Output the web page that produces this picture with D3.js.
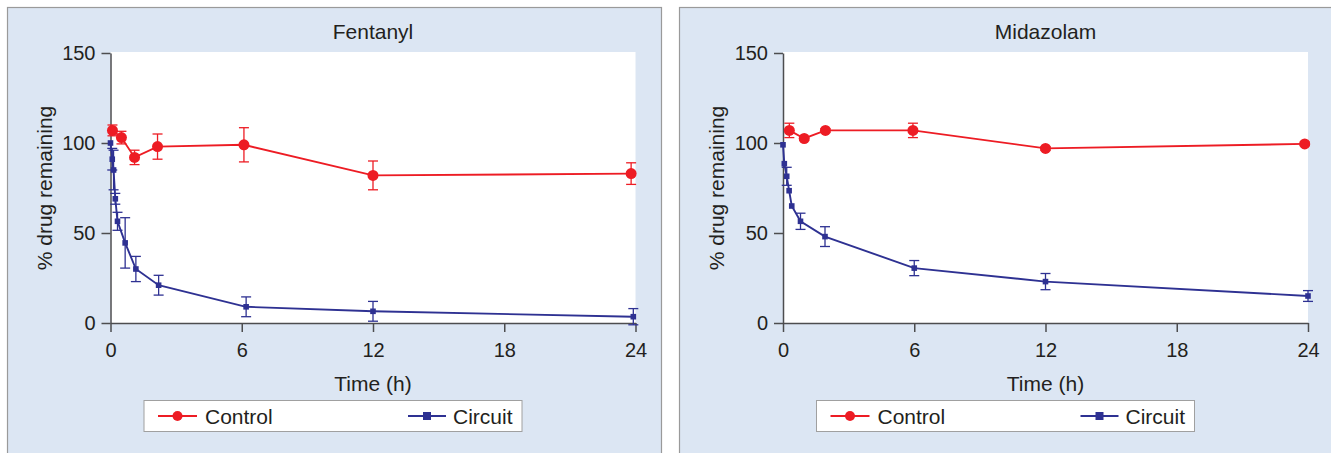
<!DOCTYPE html>
<html>
<head>
<meta charset="utf-8">
<script src="https://cdn.jsdelivr.net/npm/d3@7"></script>
<style>
  body { margin: 0; background: #ffffff; }
  svg { display: block; font-family: "Liberation Sans", Arial, sans-serif; }
</style>
</head>
<body>
<div id="chart"></div>
<script>
// axis ticks
var xTicks = [0, 6, 12, 18, 24];
var yTicks = [0, 50, 100, 150];
var panelTitles = ["Fentanyl", "Midazolam"];
var seriesNames = ["Control", "Circuit"];

// Fentanyl - control
var fenControlTime = [0.09, 0.5, 1.1, 2.15, 6.1, 12, 23.8];
var fenControlMean = [107, 103, 92, 98, 99, 82, 83];
var fenControlErr  = [3, 3.5, 4, 7, 9.5, 8, 6];
// Fentanyl - circuit
var fenCircuitTime = [0, 0.08, 0.14, 0.22, 0.32, 0.67, 1.16, 2.2, 6.2, 12, 23.9];
var fenCircuitMean = [100, 91, 85, 69, 56.5, 44.5, 30, 21, 9, 6.5, 3.5];
var fenCircuitErr  = [0, 6, 11, 3, 5, 14, 7, 5.5, 5.5, 5.5, 4.5];

// Midazolam - control
var midControlTime = [0.29, 0.97, 1.94, 5.94, 12, 23.85];
var midControlMean = [107, 102.5, 107, 107, 97, 99.5];
var midControlErr  = [4, 1, 1, 4, 1, 1];
// Midazolam - circuit
var midCircuitTime = [0, 0.06, 0.17, 0.28, 0.4, 0.8, 1.92, 6.0, 12.0, 24];
var midCircuitMean = [99, 88.5, 81.5, 73.5, 65, 56.5, 48, 30.5, 23, 15];
var midCircuitErr  = [0, 0, 5, 0, 0, 4.5, 5.5, 4.2, 4.5, 3];

var red = "#ed1c24";
var blue = "#2e3192";

function zip(t, m, e) {
  return t.map(function(d, i) { return { t: d, m: m[i], e: e[i] }; });
}

var panels = [
  { title: panelTitles[0], x: 7, plotLeft: 110.5,
    control: zip(fenControlTime, fenControlMean, fenControlErr),
    circuit: zip(fenCircuitTime, fenCircuitMean, fenCircuitErr) },
  { title: panelTitles[1], x: 679, plotLeft: 783,
    control: zip(midControlTime, midControlMean, midControlErr),
    circuit: zip(midCircuitTime, midCircuitMean, midCircuitErr) }
];

var W = 1331, H = 453;
var plotW = 525, plotTop = 53, plotBottom = 323;

var svg = d3.select("#chart").append("svg")
  .attr("width", W)
  .attr("height", H);

panels.forEach(function(p, pi) {
  var panelW = pi == 0 ? 654 : 660;

  // panel background
  svg.append("rect")
    .attr("x", p.x + 0.5)
    .attr("y", 7.5)
    .attr("width", panelW)
    .attr("height", H)
    .attr("fill", "#dce6f3")
    .attr("stroke", "#9a9a9a")
    .attr("stroke-width", 1.2);

  var x = d3.scaleLinear().domain([0, 24]).range([p.plotLeft, p.plotLeft + plotW]);
  var y = d3.scaleLinear().domain([0, 150]).range([plotBottom, plotTop]);

  // white plotting area
  svg.append("rect")
    .attr("x", x(0))
    .attr("y", y(150) - 1)
    .attr("width", x(24) - x(0))
    .attr("height", y(0) - y(150) + 1)
    .attr("fill", "#ffffff");

  // title
  svg.append("text")
    .attr("x", x(12))
    .attr("y", 39)
    .attr("text-anchor", "middle")
    .style("font-size", "21px")
    .attr("fill", "#231f20")
    .text(p.title);

  // axes
  var xAxis = svg.append("g")
    .attr("transform", "translate(0," + y(0) + ")")
    .call(d3.axisBottom(x).tickValues(xTicks).tickSize(9).tickPadding(11).tickSizeOuter(0));
  var yAxis = svg.append("g")
    .attr("transform", "translate(" + x(0) + ",0)")
    .call(d3.axisLeft(y).tickValues(yTicks).tickSize(9).tickPadding(6).tickSizeOuter(0));

  [xAxis, yAxis].forEach(function(a) {
    a.selectAll("path, line").attr("stroke", "#4d4d4f").attr("stroke-width", 1.5);
    a.selectAll("text").style("font-size", "20px").attr("fill", "#231f20");
  });

  // axis titles
  svg.append("text")
    .attr("transform", "translate(" + (p.x + 38) + "," + ((plotTop + plotBottom) / 2) + ") rotate(-90)")
    .attr("dy", "0.35em")
    .attr("text-anchor", "middle")
    .style("font-size", "21px")
    .attr("fill", "#231f20")
    .text("% drug remaining");

  svg.append("text")
    .attr("x", x(12))
    .attr("y", 391)
    .attr("text-anchor", "middle")
    .style("font-size", "21px")
    .attr("fill", "#231f20")
    .text("Time (h)");

  var line = d3.line()
    .x(function(d) { return x(d.t); })
    .y(function(d) { return y(d.m); });

  // circuit first, control over it
  [["circuit", blue], ["control", red]].forEach(function(s) {
    var data = p[s[0]], col = s[1];
    var g = svg.append("g");

    // error bars
    var eb = g.selectAll(".err").data(data.filter(function(d) { return d.e > 0; }))
      .enter().append("g");
    eb.append("line")
      .attr("x1", function(d) { return x(d.t); })
      .attr("x2", function(d) { return x(d.t); })
      .attr("y1", function(d) { return y(d.m + d.e); })
      .attr("y2", function(d) { return y(d.m - d.e); })
      .attr("stroke", col).attr("stroke-width", 1.3);
    [1, -1].forEach(function(sign) {
      eb.append("line")
        .attr("x1", function(d) { return x(d.t) - 5; })
        .attr("x2", function(d) { return x(d.t) + 5; })
        .attr("y1", function(d) { return y(d.m + sign * d.e); })
        .attr("y2", function(d) { return y(d.m + sign * d.e); })
        .attr("stroke", col).attr("stroke-width", 1.3);
    });

    g.append("path")
      .datum(data)
      .attr("d", line)
      .attr("fill", "none")
      .attr("stroke", col)
      .attr("stroke-width", 1.9);

    if (s[0] == "control") {
      g.selectAll(".pt").data(data).enter().append("circle")
        .attr("cx", function(d) { return x(d.t); })
        .attr("cy", function(d) { return y(d.m); })
        .attr("r", 5.5)
        .attr("fill", col);
    } else {
      g.selectAll(".pt").data(data).enter().append("rect")
        .attr("x", function(d) { return x(d.t) - 2.8; })
        .attr("y", function(d) { return y(d.m) - 2.8; })
        .attr("width", 5.6)
        .attr("height", 5.6)
        .attr("fill", col);
    }
  });

  // legend
  var lx = x(0) + 33.5, ly = 400.5;
  var leg = svg.append("g").attr("transform", "translate(" + lx + "," + ly + ")");
  leg.append("rect")
    .attr("width", 378)
    .attr("height", 31)
    .attr("fill", "#ffffff")
    .attr("stroke", "#a0a0a0")
    .attr("stroke-width", 1);

  leg.append("line").attr("x1", 14).attr("x2", 53).attr("y1", 15.5).attr("y2", 15.5)
    .attr("stroke", red).attr("stroke-width", 1.8);
  leg.append("circle").attr("cx", 33.5).attr("cy", 15.5).attr("r", 5).attr("fill", red);
  leg.append("text").attr("x", 61).attr("y", 23).style("font-size", "21px")
    .attr("fill", "#231f20").text(seriesNames[0]);

  leg.append("line").attr("x1", 264).attr("x2", 302).attr("y1", 15.5).attr("y2", 15.5)
    .attr("stroke", blue).attr("stroke-width", 1.8);
  leg.append("rect").attr("x", 279).attr("y", 11.5).attr("width", 8).attr("height", 8).attr("fill", blue);
  leg.append("text").attr("x", 309).attr("y", 23).style("font-size", "21px")
    .attr("fill", "#231f20").text(seriesNames[1]);
});
</script>
</body>
</html>
